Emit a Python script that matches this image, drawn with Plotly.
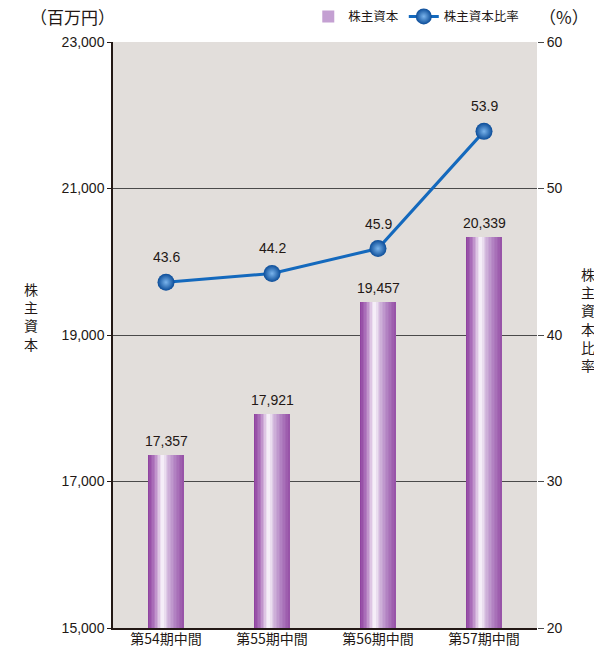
import plotly.graph_objects as go

categories = ["第54期中間", "第55期中間", "第56期中間", "第57期中間"]
equity = [17357, 17921, 19457, 20339]
equity_ratio = [43.6, 44.2, 45.9, 53.9]
left_ticks = [15000, 17000, 19000, 21000, 23000]
right_ticks = [20, 30, 40, 50, 60]

# horizontal gradient stops for the bar (position, rgb)
grad = [(0.0, (140, 60, 156)), (0.18, (176, 120, 190)), (0.36, (238, 226, 242)),
        (0.42, (250, 246, 252)), (0.55, (214, 190, 224)), (0.75, (180, 134, 196)),
        (1.0, (150, 80, 166))]

def grad_color(t):
    for (p0, c0), (p1, c1) in zip(grad[:-1], grad[1:]):
        if p0 <= t <= p1:
            f = (t - p0) / (p1 - p0) if p1 > p0 else 0
            return "rgb(%d,%d,%d)" % tuple(round(a + (b - a) * f) for a, b in zip(c0, c1))
    return "rgb(%d,%d,%d)" % grad[-1][1]

CJK = "Noto Sans CJK JP"
LAT = "Liberation Sans, Arial, sans-serif"
TXT = "#231815"

fig = go.Figure()
BW = 0.33
N = 24
for i in range(N):
    t = (i + 0.5) / N
    fig.add_trace(go.Bar(
        x=categories, y=equity, width=BW / N + 0.002, offset=-BW / 2 + i * BW / N,
        marker=dict(color=grad_color(t), line=dict(width=0)),
        showlegend=False, hoverinfo="skip", yaxis="y"))

# legend entry for the bars
fig.add_trace(go.Bar(x=[None], y=[None], name="株主資本",
                     marker=dict(color="rgb(196,160,210)", line=dict(width=0)),
                     showlegend=True))

fig.add_trace(go.Scatter(
    x=categories, y=equity_ratio, yaxis="y2", mode="lines+markers", name="株主資本比率",
    line=dict(color="#1469bd", width=3),
    marker=dict(size=17, color="#0b4c98",
                gradient=dict(type="radial", color="#7ab4ec"),
                line=dict(width=0)),
    cliponaxis=False))

annotations = []
for c, v in zip(categories, equity):
    annotations.append(dict(x=c, y=v, yref="y", text=f"{v:,}", showarrow=False,
                            yshift=14, font=dict(family=LAT, size=14, color=TXT)))
for c, v in zip(categories, equity_ratio):
    annotations.append(dict(x=c, y=v, yref="y2", text=f"{v}", showarrow=False,
                            yshift=25, font=dict(family=LAT, size=14, color=TXT)))

annotations += [
    dict(xref="paper", yref="paper", x=-0.2, y=1.043, text="（百万円）", showarrow=False,
         xanchor="left", yanchor="middle", font=dict(family=CJK, size=17, color=TXT)),
    dict(xref="paper", yref="paper", x=1.0, y=1.043, text="（%）", showarrow=False,
         xanchor="left", yanchor="middle", font=dict(family=CJK, size=17, color=TXT)),
    dict(xref="paper", yref="paper", x=-0.193, y=0.532, text="株<br>主<br>資<br>本", showarrow=False,
         xanchor="center", yanchor="middle", font=dict(family=CJK, size=14, color=TXT)),
    dict(xref="paper", yref="paper", x=1.12, y=0.527, text="株<br>主<br>資<br>本<br>比<br>率",
         showarrow=False, xanchor="center", yanchor="middle",
         font=dict(family=CJK, size=14, color=TXT)),
]

fig.update_layout(
    width=594, height=647,
    margin=dict(l=113, r=57, t=42, b=19, autoexpand=False),
    paper_bgcolor="white", plot_bgcolor="#e2dedb",
    barmode="overlay", bargap=0,
    showlegend=True,
    legend=dict(orientation="h", x=0.97, xanchor="right", y=1.043, yanchor="middle",
                font=dict(family=CJK, size=12.5, color=TXT),
                bgcolor="rgba(0,0,0,0)", itemwidth=30, traceorder="normal"),
    xaxis=dict(type="category", range=[-0.5, 3.5], showgrid=False, ticks="",
               showline=True, linecolor=TXT, linewidth=1.5, automargin=False,
               ticklabelstandoff=-3,
               tickfont=dict(family=CJK, size=14, color=TXT), fixedrange=True),
    yaxis=dict(range=[15000, 23000], tickvals=left_ticks,
               ticktext=[f"{v:,}" for v in left_ticks], automargin=False,
               showgrid=True, gridcolor="#4a4a4a", gridwidth=1,
               showline=True, linecolor=TXT, linewidth=1.5,
               ticks="outside", ticklen=4, tickcolor=TXT,
               tickfont=dict(family=LAT, size=14, color=TXT), zeroline=False),
    yaxis2=dict(range=[20, 60], tickvals=right_ticks, overlaying="y", side="right",
                showgrid=False, showline=False, ticks="outside", ticklen=6,
                tickcolor="#4a4a4a", automargin=False,
                tickfont=dict(family=LAT, size=14, color=TXT), zeroline=False),
    annotations=annotations,
)

fig.write_html("out.html")
